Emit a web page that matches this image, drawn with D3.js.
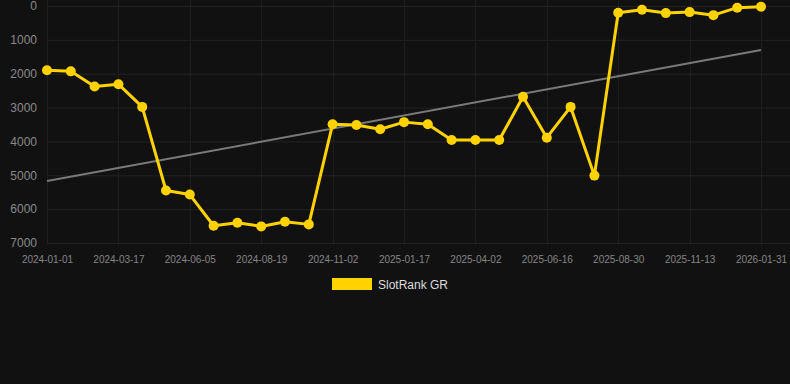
<!DOCTYPE html>
<html>
<head>
<meta charset="utf-8">
<script src="https://cdn.jsdelivr.net/npm/d3@7"></script>
<style>
  html, body { margin: 0; padding: 0; background: #111111; }
  svg { display: block; font-family: "Liberation Sans", Arial, sans-serif; }
</style>
</head>
<body>
<div id="chart"></div>
<script>
// Chart data
const dates = [
    '2024-01-01', '2024-01-26', '2024-02-20', '2024-03-17', '2024-04-12', '2024-05-09',
    '2024-06-05', '2024-06-30', '2024-07-25', '2024-08-19', '2024-09-13', '2024-10-08',
    '2024-11-02', '2024-11-27', '2024-12-23', '2025-01-17', '2025-02-11', '2025-03-08',
    '2025-04-02', '2025-04-27', '2025-05-22', '2025-06-16', '2025-07-11', '2025-08-05',
    '2025-08-30', '2025-09-24', '2025-10-19', '2025-11-13', '2025-12-08', '2026-01-02',
    '2026-01-31'
];
const ranks = [
    1900, 1930, 2380, 2310, 2980, 5450, 5570, 6490, 6400, 6510, 6370, 6450,
    3490, 3515, 3640, 3430, 3490, 3960, 3960, 3960, 2680, 3890, 2980, 5010,
    200, 110, 210, 180, 270, 50, 20
];
const trend = [5170, 1300];
const yTicks = [0, 1000, 2000, 3000, 4000, 5000, 6000, 7000];
const seriesName = 'SlotRank GR';

function draw() {
    const dimensions = {
        width: 790,
        height: 384,
        left: 47,
        right: 761,
        top: 6,
        bottom: 243
    }

    const svg = d3.select('#chart')
        .append('svg')
        .attr('width', dimensions.width)
        .attr('height', dimensions.height);

    // Scales
    const xScale = d3.scalePoint()
        .domain(dates)
        .range([dimensions.left, dimensions.right]);

    const yScale = d3.scaleLinear()
        .domain([0, 7000])
        .range([dimensions.top, dimensions.bottom]);

    const labelDates = dates.filter((d, i) => i % 3 === 0);

    // Grid
    svg.append('g')
        .selectAll('line')
        .data(yTicks)
        .join('line')
        .attr('x1', dimensions.left)
        .attr('x2', dimensions.width)
        .attr('y1', d => yScale(d) + 0.5)
        .attr('y2', d => yScale(d) + 0.5)
        .attr('stroke', '#232323')
        .attr('stroke-width', 1);

    svg.append('g')
        .selectAll('line')
        .data(labelDates)
        .join('line')
        .attr('x1', d => Math.round(xScale(d)) + 0.5)
        .attr('x2', d => Math.round(xScale(d)) + 0.5)
        .attr('y1', 0)
        .attr('y2', dimensions.bottom + 2)
        .attr('stroke', '#1e1e1e')
        .attr('stroke-width', 1);

    // Axes
    const yAxis = d3.axisLeft(yScale)
        .tickValues(yTicks)
        .tickSize(0)
        .tickPadding(0)
        .tickFormat(d3.format('d'));

    svg.append('g')
        .attr('transform', 'translate(37, 0)')
        .call(yAxis)
        .call(g => g.select('.domain').remove())
        .selectAll('text')
        .attr('fill', '#8a8a8a')
        .attr('font-size', 12)
        .attr('font-family', '"Liberation Sans", Arial, sans-serif');

    const xAxis = d3.axisBottom(xScale)
        .tickValues(labelDates)
        .tickSize(0)
        .tickPadding(0);

    svg.append('g')
        .attr('transform', `translate(0, ${dimensions.bottom + 13})`)
        .call(xAxis)
        .call(g => g.select('.domain').remove())
        .selectAll('text')
        .attr('fill', '#858585')
        .attr('font-size', 10)
        .attr('font-family', '"Liberation Sans", Arial, sans-serif');

    // Trend line
    svg.append('line')
        .attr('x1', xScale(dates[0]))
        .attr('x2', xScale(dates[dates.length - 1]))
        .attr('y1', yScale(trend[0]))
        .attr('y2', yScale(trend[1]))
        .attr('stroke', '#7a7a7a')
        .attr('stroke-width', 2);

    // Series
    const line = d3.line()
        .x((d, i) => xScale(dates[i]))
        .y(d => yScale(d));

    svg.append('path')
        .datum(ranks)
        .attr('d', line)
        .attr('fill', 'none')
        .attr('stroke', '#ffd200')
        .attr('stroke-width', 3)
        .attr('stroke-linejoin', 'round');

    svg.append('g')
        .selectAll('circle')
        .data(ranks)
        .join('circle')
        .attr('cx', (d, i) => xScale(dates[i]))
        .attr('cy', d => yScale(d))
        .attr('r', 5)
        .attr('fill', '#ffd200');

    // Legend
    const legend = svg.append('g')
        .attr('transform', 'translate(332, 278)');

    legend.append('rect')
        .attr('width', 40)
        .attr('height', 12)
        .attr('fill', '#ffd200');

    legend.append('text')
        .attr('x', 46)
        .attr('y', 10.5)
        .attr('fill', '#dddddd')
        .attr('font-size', 12)
        .text(seriesName);
}

draw();
</script>
</body>
</html>
